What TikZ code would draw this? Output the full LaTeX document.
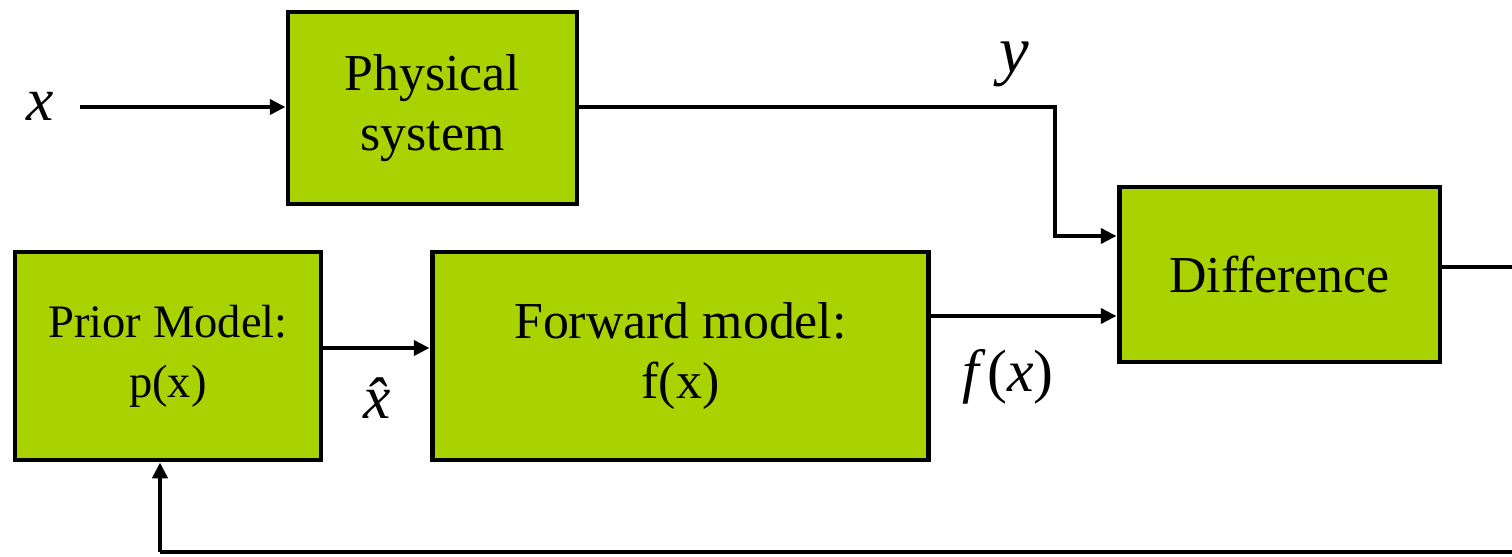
\documentclass[tikz,border=0pt]{standalone}
\usepackage{fontspec}
\setmainfont{Liberation Serif}
\usetikzlibrary{arrows.meta,calc}
\definecolor{boxgreen}{RGB}{168,210,0}
\begin{document}
\begin{tikzpicture}[x=0.02cm,y=-0.02cm,
  blockbox/.style={draw=black,line width=2.8pt,fill=boxgreen,inner sep=0pt,align=center,font=\fontsize{29.5}{34}\selectfont},
  conn/.style={line width=2.3pt},
  arr/.style={conn,-{Triangle[length=9pt,width=8.5pt]}},
  mathlbl/.style={font=\fontsize{35}{38}\selectfont\itshape}]
\useasboundingbox (0,0) rectangle (1512,556);
\clip (0,0) rectangle (1512,556);
\node[blockbox,minimum width=5.78cm,minimum height=3.84cm] (phys) at (432.5,108) {Physical\\system};
\node[blockbox,minimum width=6.42cm,minimum height=3.5cm] (diff) at (1279.5,274.5) {Difference};
\node[blockbox,minimum width=6.12cm,minimum height=4.16cm,font=\fontsize{26.5}{34}\selectfont] (prior) at (168,356) {Prior Model:\\p(x)};
\node[blockbox,minimum width=9.94cm,minimum height=4.16cm] (fwd) at (680.5,356) {Forward model:\\f(x)};
\node[mathlbl] (xlbl) at (40,106) {x};
\node[mathlbl,font=\fontsize{38}{40}\selectfont\itshape] (ylbl) at (1014,64) {y};
\node[mathlbl] (xhat) at (377,398) {\^x};
\node[font=\fontsize{34}{36}\selectfont] (fxl) at (1008,377) {\textit{f}\kern1pt(\textit{x})};
\coordinate (xin) at (80,107);
\coordinate (ycorner) at (1055,236);
\coordinate (fy) at (0,316);
\coordinate (py) at (0,348);
\coordinate (rb) at (1530,552);
\coordinate (fb) at (160,552);
\draw[arr] (xin) -- (xin -| phys.west);
\draw[arr] (phys.east |- xin) -| (ycorner) -- (ycorner -| diff.west);
\draw[arr] (fwd.east |- fy) -- (diff.west |- fy);
\draw[arr] (prior.east |- py) -- (fwd.west |- py);
\draw[conn] (diff.east |- 0,267) -| (rb) -- (fb);
\draw[arr] (fb) -- (fb |- prior.south);
\end{tikzpicture}
\end{document}
